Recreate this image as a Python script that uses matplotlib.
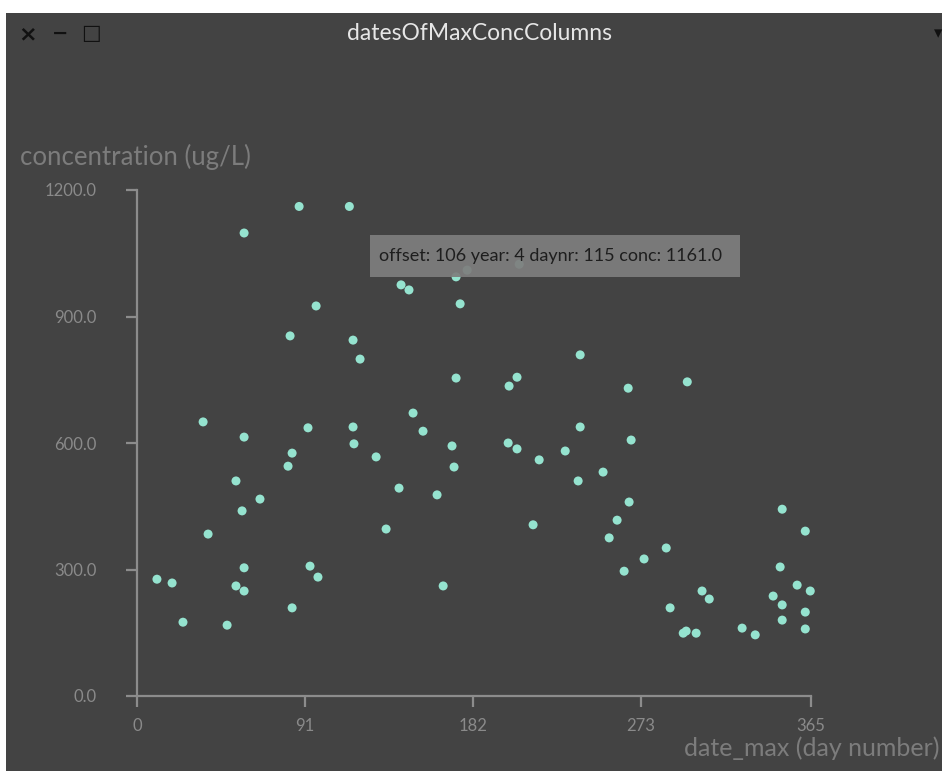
import matplotlib
matplotlib.use("Agg")
import matplotlib.pyplot as plt
from matplotlib.patches import Rectangle

# day number of the max concentration and the max concentration (ug/L)
days = [
    10.8, 19.0, 24.9, 35.8, 38.5, 48.8, 53.6, 58.0, 58.0, 56.9,
    58.0, 53.6, 58.0, 66.6, 81.8, 82.9, 84.0, 84.0, 87.8, 92.6,
    93.7, 97.0, 98.0, 115.0, 117.0, 117.0, 120.8, 117.5, 129.5, 134.9,
    141.9, 143.0, 147.3, 149.5, 154.9, 162.5, 165.8, 172.8, 175.0, 172.8,
    170.6, 171.7, 178.8, 207.0, 205.8, 201.5, 201.0, 205.8, 217.8, 214.5,
    231.9, 240.0, 240.0, 238.9, 252.4, 255.7, 260.0, 266.5, 266.0, 267.6,
    263.8, 274.6, 286.6, 288.7, 298.0, 295.8, 297.4, 302.8, 306.0, 309.9,
    327.7, 334.8, 349.4, 361.9, 348.3, 357.5, 364.6, 344.5, 349.4, 361.9,
    349.4, 361.9,
]
conc = [
    277, 268, 175, 650, 384, 168, 510, 1098, 614, 439,
    304, 261, 249, 467, 545, 854, 576, 209, 1161, 636,
    308, 925, 282, 1161, 844, 638, 799, 598, 567, 396,
    493, 975, 963, 671, 628, 477, 261, 994, 930, 754,
    593, 543, 1010, 1024, 756, 735, 600, 586, 560, 406,
    581, 809, 638, 510, 531, 375, 417, 460, 730, 607,
    296, 325, 351, 209, 745, 149, 154, 149, 249, 230,
    161, 145, 443, 391, 306, 263, 249, 237, 216, 199,
    180, 159,
]

x_ticks = [0, 91, 182, 273, 365]
y_ticks = [0, 300, 600, 900, 1200]
title = "datesOfMaxConcColumns"
tooltip = "offset: 106 year: 4 daynr: 115 conc: 1161.0"

W, H = 942, 771
BG = "#434343"
AXIS = "#8c8c8c"
LABEL = "#8a8a8a"
DOT = "#95e3cf"

plt.rcParams["font.family"] = ["Lato", "DejaVu Sans"]

fig = plt.figure(figsize=(W / 100, H / 100), dpi=100, facecolor=BG)

# white strips on the top and left edges of the screenshot
fig.patches.append(Rectangle((0, 1 - 13 / H), 1, 13 / H, transform=fig.transFigure,
                             facecolor="white", edgecolor="none"))
fig.patches.append(Rectangle((0, 0), 6 / W, 1, transform=fig.transFigure,
                             facecolor="white", edgecolor="none"))

# title bar
fig.text(480 / W, 1 - 33 / H, title, ha="center", va="center",
         fontsize=16.5, color="#e6e6e6")
fig.text(28 / W, 1 - 34 / H, "×", ha="center", va="center",
         fontsize=16, color="#111111", fontweight="bold", family="DejaVu Sans")
fig.text(60 / W, 1 - 33 / H, "−", ha="center", va="center",
         fontsize=14, color="#111111", fontweight="bold", family="DejaVu Sans")
fig.text(91 / W, 1 - 33 / H, "□", ha="center", va="center",
         fontsize=15, color="#111111", fontweight="bold", family="DejaVu Sans")
fig.text(938 / W, 1 - 33 / H, "▾", ha="center", va="center",
         fontsize=12, color="#111111", family="DejaVu Sans")

# plot area
x0, x1, y0, y1 = 137, 811, 190, 696
ax = fig.add_axes([x0 / W, 1 - y1 / H, (x1 - x0) / W, (y1 - y0) / H])
ax.set_facecolor("none")
ax.set_xlim(0, 365)
ax.set_ylim(0, 1200)

for s in ("top", "right"):
    ax.spines[s].set_visible(False)
for s in ("left", "bottom"):
    ax.spines[s].set_color(AXIS)
    ax.spines[s].set_linewidth(1.6)

ax.set_xticks(x_ticks)
ax.set_xticklabels([str(t) for t in x_ticks])
ax.set_yticks(y_ticks)
ax.set_yticklabels([f"{t:.1f}" for t in y_ticks])
ax.tick_params(axis="both", direction="out", length=8, width=1.6,
               color=AXIS, labelcolor=LABEL, labelsize=12)
ax.tick_params(axis="y", pad=21)
ax.tick_params(axis="x", pad=8)

ax.scatter(days, conc, s=42, color=DOT, edgecolors="none", zorder=3,
           clip_on=False)

# axis titles, placed like the original widget
fig.text(20 / W, 1 - 157 / H, "concentration (ug/L)", ha="left", va="center",
         fontsize=18.5, color="#7c7c7c")
fig.text(940 / W, 1 - 748 / H, "date_max (day number)", ha="right",
         va="center", fontsize=18, color="#7c7c7c")

# hover tooltip, drawn above the dots
ax.add_patch(Rectangle((370 / W, 1 - 277 / H), 370 / W, 42 / H,
                       transform=fig.transFigure, facecolor="#7e7e7e",
                       edgecolor="none", alpha=0.93, zorder=5, clip_on=False))
ax.text(379 / W, 1 - 256 / H, tooltip, ha="left", va="center",
        fontsize=13, color="#1e1e1e", zorder=6, transform=fig.transFigure)

fig.savefig("out.png", dpi=100, facecolor=fig.get_facecolor())
